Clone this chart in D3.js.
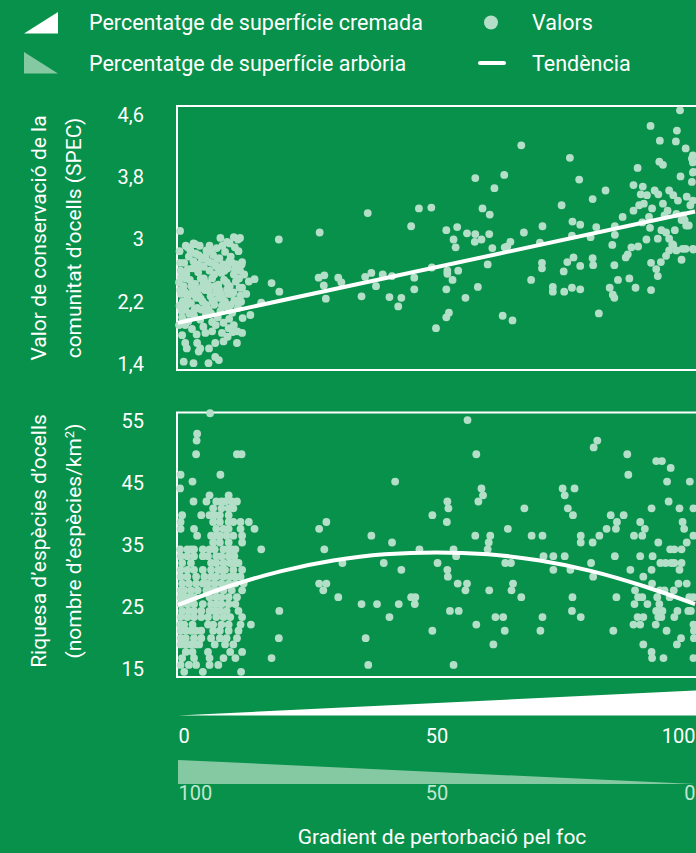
<!DOCTYPE html>
<html>
<head>
<meta charset="utf-8">
<script src="https://cdnjs.cloudflare.com/ajax/libs/d3/7.8.5/d3.min.js"></script>
<style>
  body { margin: 0; background: #08914a; overflow: hidden; }
  svg { display: block; font-family: Roboto, sans-serif; }
</style>
</head>
<body>
<svg></svg>
<script>
const width = 696
const height = 853
const dotColor = '#b3dfc8'
const lightColor = '#85c9a2'

const burnTicks = [0, 50, 100]
const forestTicks = [100, 50, 0]
const specTicks = [1.4, 2.2, 3, 3.8, 4.6]
const richTicks = [15, 25, 35, 45, 55]

// SPEC value vs fire gradient (x: 0-100)
const specCluster = [
  [0.3,2.85],[1.2,2.7],[2.1,2.78],[3.4,2.82],[4.6,2.75],[5.5,2.86],[6.8,2.8],[8.0,2.76],[9.1,2.84],[10.2,2.78],[11.3,2.68],
  [0.5,2.6],[1.6,2.55],[2.8,2.63],[3.9,2.58],[5.0,2.65],[6.1,2.6],[7.3,2.66],[8.4,2.57],[9.6,2.63],[10.8,2.55],[12.0,2.6],
  [0.2,2.45],[1.1,2.4],[2.3,2.48],[3.3,2.43],[4.4,2.5],[5.6,2.44],[6.6,2.5],[7.8,2.42],[8.9,2.48],[10.0,2.4],[11.2,2.46],[12.4,2.38],
  [0.6,2.3],[1.8,2.25],[2.9,2.33],[4.0,2.28],[5.2,2.35],[6.3,2.27],[7.4,2.32],[8.6,2.24],[9.7,2.3],[10.9,2.22],[12.1,2.28],
  [0.3,2.15],[1.4,2.1],[2.5,2.18],[3.7,2.12],[4.8,2.2],[5.9,2.1],[7.0,2.16],[8.2,2.08],[9.3,2.14],[10.5,2.06],[11.6,2.12],
  [0.8,2.0],[2.0,1.95],[3.1,2.02],[4.3,1.97],[5.4,2.04],[6.6,1.94],[7.7,2.0],[8.8,1.93],[9.9,1.98],
  [0.4,2.7],[1.9,2.9],[3.0,2.95],[4.2,2.92],[5.0,2.5],[6.0,2.4],[7.0,2.55],[8.0,2.35],[9.0,2.6],[10.5,2.7],[11.8,2.5],
  [2.6,2.3],[3.6,2.68],[4.7,2.38],[5.8,2.72],[6.9,2.2],[7.9,2.62],[9.4,2.45],[10.3,2.3],[11.0,2.9],[12.2,2.2],[1.5,2.5],
  [0.9,2.2],[2.2,2.05],[3.5,2.25],[4.5,2.1],[6.4,2.05],[8.5,2.15],[9.8,2.1],
  [0.6,2.52],[1.9,2.62],[3.0,2.72],[4.1,2.66],[5.3,2.78],[6.4,2.7],[7.6,2.75],[8.7,2.68],[9.9,2.72],[11.0,2.62],[12.3,2.68],
  [0.4,2.35],[1.4,2.32],[2.6,2.4],[3.8,2.36],[4.9,2.42],[6.0,2.34],[7.2,2.4],[8.3,2.3],[9.5,2.36],[10.7,2.32],[11.9,2.38],
  [0.7,2.08],[2.0,2.2],[3.2,2.1],[4.4,2.24],[5.5,2.16],[6.7,2.22],[7.9,2.25],[9.1,2.2],[10.2,2.16],[11.4,2.2],
  [2.4,2.86],[4.0,2.8],[6.3,2.85],[8.6,2.92],[10.0,2.95],[12.8,2.55],[13.2,2.3],[0.2,1.9],[2.7,1.85],[4.9,1.88],
  [7.3,1.9],[9.6,1.75],[3.6,1.78],[6.0,1.6],
  [0.4,3.11],[1.5,2.92],[3.3,2.94],[6.1,2.92],[7.5,2.89],[8.2,3.02],[9.5,2.97],[10.8,3.03],[11.6,3.0],[12.0,3.02],
  [11.7,2.85],[12.4,2.71],[13.7,2.46],[12.5,1.99],[11.5,1.82],[12.4,1.8],[10.6,1.81],[11.4,1.67],[8.8,1.69],[7.2,1.67],
  [7.2,1.49],[7.9,1.45],[5.9,1.41],[3.7,1.67],[4.3,1.6],[4.0,1.56],[1.4,1.67],[1.7,1.6],[1.4,1.9],[1.1,1.43],[3.0,1.41],
  [0.8,1.77],[1.7,2.16],[0.9,2.15],[5.3,1.8],[6.6,1.82],[8.5,1.8],[10.8,1.9],[9.8,1.86]
]
const specSpread = [
  [19.5,3.0],[27.4,3.09],[18.1,2.44],[19.6,2.33],[16.1,2.19],[14.0,2.03],[14.8,2.49],[36.7,3.34],[27.2,2.51],[28.3,2.54],
  [28.2,2.41],[28.6,2.24],[31.0,2.51],[31.6,2.45],[35.5,2.27],[36.2,2.52],[37.4,2.57],[38.3,2.4],[39.6,2.55],[40.9,2.26],
  [42.6,2.14],[43.2,2.25],[41.4,2.53],[45.1,3.17],[46.6,3.4],[49.0,3.41],[45.7,2.51],[45.7,2.36],[49.1,2.64],[49.9,1.86],
  [51.9,2.0],[52.4,2.06],[51.9,3.12],[53.3,3.0],[53.7,2.9],[54.0,3.16],[55.9,3.08],[57.5,3.07],[57.4,2.97],[58.7,3.0],
  [60.2,3.07],[58.9,3.4],[60.3,3.32],[57.5,3.79],[63.1,3.83],[61.2,3.66],[66.4,4.21],[52.1,2.6],[52.1,2.56],[53.1,2.48],
  [51.9,2.36],[54.2,2.6],[55.6,2.25],[58.0,2.39],[59.9,2.68],[60.8,2.89],[63.2,2.9],[63.7,2.91],[64.3,2.97],[66.9,3.09],
  [62.8,2.02],[64.7,1.96],[68.3,2.48],[70.0,2.96],[70.4,2.7],[70.4,2.63],[70.5,3.17],[72.5,2.39],[72.5,2.33],[74.7,2.33],
  [74.6,2.59],[75.3,2.71],[76.2,2.38],[77.8,2.36],[76.5,2.77],[77.8,2.66],[76.3,3.23],[77.8,3.19],[75.8,4.05],[77.6,3.77],
  [74.2,3.44],[76.2,3.05],[80.2,3.52],[82.7,3.63],[80.2,2.76],[80.3,2.67],[81.4,2.05],[80.9,3.16],[79.8,3.03],[83.5,2.38],
  [84.1,2.29],[84.4,2.25],[84.4,2.67],[84.0,2.93],[85.1,2.48],[84.5,3.17],[84.5,3.06],[86.0,3.29],[87.3,2.5],[88.5,2.38],
  [86.6,2.77],[87.0,2.81],[87.7,2.9],[89.0,2.91],[90.6,3.0],[91.5,2.35],[91.5,2.7],[92.8,2.53],[92.5,2.62],[93.4,2.71],
  [94.4,2.79],[95.0,2.86],[95.8,2.93],[96.4,2.86],[97.4,2.74],[98.2,2.88],[99.7,2.87],[88.1,3.7],[88.9,3.92],[89.9,3.68],
  [89.5,3.58],[90.7,3.57],[92.2,3.63],[92.9,3.58],[91.4,4.46],[93.2,4.27],[93.1,4.0],[93.8,3.96],[96.3,4.26],[96.5,4.4],
  [97.1,4.66],[98.2,4.17],[97.2,3.81],[95.0,3.63],[95.8,3.57],[98.4,3.55],[96.7,3.5],[99.4,4.04],[99.7,3.87],[99.4,3.74],
  [89.2,3.44],[90.1,3.46],[88.1,3.37],[91.7,3.4],[93.8,3.46],[94.7,3.37],[94.1,3.31],[91.1,3.29],[89.8,3.22],[91.3,3.15],
  [92.8,3.01],[93.5,3.12],[96.1,3.12],[94.4,3.09],[95.0,3.01],[95.6,2.94],[97.4,3.25],[98.8,3.18],[97.7,3.31],[96.4,3.33],
  [99.1,3.44],[99.6,4.08],[99.6,3.99],[99.6,3.86],[99.6,3.5],[98.0,3.25],[98.3,3.18],[99.6,2.88],[97.6,2.88]
]
const specTrend = [[0, 1.93], [100, 3.36]]

// species richness vs fire gradient, rows of equal richness in the unburnt cluster
const richClusterRows = [
  [56.2, [6.2]],
  [52.9, [3.7]],
  [51.8, [3.6]],
  [49.6, [3.5, 11.4, 12.3]],
  [46.3, [0.5, 8.2]],
  [45.2, [2.8]],
  [44.1, [0.4]],
  [43.0, [6.1, 9.8]],
  [42.0, [3.0, 5.5, 7.4, 8.4, 9.1, 10.4, 11.4]],
  [40.9, [6.8, 8.4, 9.8, 10.7]],
  [39.8, [0.8, 4.5, 6.1, 7.1, 8.1, 9.8]],
  [38.7, [0.5, 6.8, 8.1, 9.8, 10.7, 12.1, 13.7]],
  [37.6, [0.5, 3.1, 7.4, 8.8, 9.8, 12.1, 14.8]],
  [36.5, [3.7, 6.4, 7.4, 8.1, 9.4, 10.7, 12.4]],
  [35.4, [6.8, 8.1, 9.8, 12.4]],
  [34.3, [0.4, 1.8, 2.5, 3.1, 4.8, 6.1, 7.1, 8.8, 9.8, 10.4, 11.1]],
  [33.2, [0.5, 1.8, 3.1, 4.8, 5.8, 7.4, 8.4, 9.8, 10.9]],
  [32.1, [0.8, 2.5, 6.4, 7.4, 8.8, 10.1, 11.1, 11.7]],
  [31.0, [0.5, 1.8, 3.1, 4.8, 6.4, 7.8, 8.4, 9.1, 10.7, 12.4]],
  [29.9, [0.5, 1.8, 3.5, 5.1, 6.4, 7.4, 8.8, 10.1, 11.1, 12.1]],
  [28.8, [0.8, 2.1, 3.5, 4.8, 5.8, 7.1, 8.4, 9.8, 11.1, 12.7]],
  [27.7, [0.5, 1.2, 2.5, 3.8, 5.5, 6.4, 7.4, 8.8, 10.4, 12.4]],
  [26.6, [0.5, 1.2, 2.1, 3.1, 6.1, 7.4, 8.4, 9.8, 11.4]],
  [25.5, [0.5, 1.8, 3.1, 4.8, 6.4, 7.4, 8.4, 9.8, 11.1]],
  [24.4, [0.8, 2.1, 3.1, 4.5, 6.1, 7.1, 8.1, 9.4, 11.7]],
  [23.4, [0.5, 1.8, 3.1, 4.5, 5.8, 7.4, 8.8, 10.1, 12.4]],
  [22.2, [0.4, 1.2, 2.8, 5.8, 6.8, 8.4, 9.8, 12.1, 14.1]],
  [21.2, [0.5, 1.5, 2.5, 3.5, 4.5, 6.8, 8.1, 9.8, 11.7]],
  [20.0, [0.5, 1.5, 3.1, 4.5, 6.4, 8.1, 9.4, 11.4]],
  [19.0, [0.5, 1.5, 2.5, 3.5, 4.1, 7.1, 9.1, 10.7]],
  [17.8, [1.5, 2.8, 5.8, 10.1, 12.4]],
  [16.8, [0.8, 3.1, 6.1, 8.8, 11.1]],
  [15.7, [0.5, 2.1, 3.5, 6.1, 7.8]],
  [14.6, [1.2, 4.8, 12.2]]
]
const richSpread = [
  [56.0,55.1],[57.7,49.6],[42.0,45.2],[58.7,44.1],[59.0,43.0],[58.1,42.0],[52.1,42.0],[52.3,40.9],[52.0,38.7],[49.2,39.8],
  [67.0,40.9],[74.4,44.1],[76.7,44.1],[74.8,43.0],[75.4,40.9],[76.4,39.8],[80.4,50.7],[81.1,51.8],[86.9,49.6],[87.1,46.3],
  [92.5,48.5],[93.6,48.5],[95.3,47.4],[94.6,45.2],[99.0,45.2],[94.9,42.0],[97.0,40.9],[99.7,40.9],[27.3,37.6],[28.7,38.7],
  [28.3,34.3],[37.4,36.5],[41.4,35.4],[46.7,34.3],[53.3,34.3],[53.8,33.2],[60.4,36.5],[60.1,35.4],[59.9,34.3],[57.5,36.5],
  [63.8,37.6],[68.4,36.5],[70.5,36.5],[77.9,36.5],[77.9,35.4],[80.2,35.4],[81.5,36.5],[82.9,37.6],[84.7,37.6],[83.7,39.8],
  [84.9,38.7],[86.2,39.8],[89.4,38.7],[90.3,37.6],[88.2,36.5],[89.8,36.5],[91.6,40.9],[97.6,38.7],[97.9,37.6],[99.7,36.5],
  [98.4,35.4],[95.2,34.3],[96.0,34.3],[97.4,34.3],[92.9,35.4],[91.8,33.2],[89.4,33.2],[84.5,33.2],[74.8,33.2],[72.6,33.2],
  [70.7,33.2],[72.6,31.0],[75.9,31.0],[79.9,32.1],[80.3,29.9],[87.5,31.0],[90.0,29.9],[91.6,31.0],[93.3,32.1],[94.3,32.1],
  [95.4,32.1],[96.0,32.1],[97.4,32.1],[97.0,31.0],[63.3,32.1],[64.4,32.1],[64.8,28.8],[64.5,27.7],[66.4,26.6],[60.2,27.7],
  [54.1,28.8],[55.9,28.8],[55.6,27.7],[52.1,31.0],[52.2,29.9],[50.2,32.1],[43.2,31.0],[39.8,32.1],[31.8,32.1],[27.3,28.8],
  [28.7,28.8],[28.1,27.7],[31.0,26.6],[35.5,25.5],[38.5,25.5],[42.7,25.5],[40.9,23.4],[45.1,26.6],[45.9,26.6],[45.8,25.5],
  [52.6,24.4],[54.3,24.4],[57.7,22.2],[61.4,23.4],[62.9,23.4],[63.2,21.2],[61.0,19.0],[70.1,21.2],[70.5,23.4],[76.3,26.6],
  [76.2,24.4],[77.9,23.4],[84.8,26.6],[84.2,21.2],[49.2,21.2],[36.3,20.0],[36.8,15.7],[53.3,15.7],[18.1,16.8],[19.6,24.4],
  [19.5,20.0],[16.1,34.3],
  [88.4,27.7],[89.0,26.6],[88.3,25.5],[89.8,26.6],[90.8,25.5],[88.9,23.4],[90.0,23.4],[88.1,22.2],[89.4,22.2],[92.4,22.2],
  [92.5,24.4],[93.1,25.5],[93.7,24.4],[92.7,26.6],[95.1,26.6],[96.0,23.4],[96.6,24.4],[98.7,24.4],[99.2,24.4],[99.7,22.2],
  [99.8,21.2],[99.8,20.0],[94.5,21.2],[90.0,19.0],[91.6,17.8],[91.7,16.8],[93.9,16.8],[96.5,19.0],[97.3,20.0],[99.7,16.8],
  [91.7,28.8],[93.2,27.7],[94.1,27.7],[95.9,27.7],[96.8,28.8],[98.4,28.8],[98.9,26.6],[99.7,26.6],[92.9,23.4],[93.5,23.4]
]
const richTrend = [[0,25.35],[10,28.4],[20,30.8],[30,32.5],[40,33.5],[50,33.8],[60,33.5],[70,32.5],[80,30.8],[90,28.4],[100,25.5]]

const svg = d3.select('svg')
    .attr('width', width)
    .attr('height', height)

const xScale = d3.scaleLinear().domain([0, 100]).range([178, 695])
const forestScale = d3.scaleLinear().domain([100, 0]).range([178, 695])
const ySpec = d3.scaleLinear().domain([1.4, 4.6]).range([364, 115])
const yRich = d3.scaleLinear().domain([15, 55]).range([669.3, 420.7])
const commaFormat = (d) => String(d).replace('.', ',')

const drawPanel = (points, trend, yScale, ticks, top, bottom, curve) => {
    svg.append('rect')
        .attr('x', 177)
        .attr('y', top)
        .attr('width', 540)
        .attr('height', bottom - top)
        .attr('fill', 'none')
        .attr('stroke', 'white')
        .attr('stroke-width', 2)

    svg.append('g')
        .selectAll('circle')
        .data(points)
        .enter()
        .append('circle')
        .attr('cx', (d) => xScale(d[0]))
        .attr('cy', (d) => yScale(d[1]))
        .attr('r', 3.9)
        .attr('fill', dotColor)

    const line = d3.line()
        .x((d) => xScale(d[0]))
        .y((d) => yScale(d[1]))
        .curve(curve)
    svg.append('path')
        .datum(trend)
        .attr('d', line)
        .attr('fill', 'none')
        .attr('stroke', 'white')
        .attr('stroke-width', 4)

    const yAxis = d3.axisLeft(yScale)
        .tickValues(ticks)
        .tickSize(0)
        .tickPadding(0)
        .tickFormat(commaFormat)
    const g = svg.append('g')
        .attr('transform', 'translate(144, 0)')
        .call(yAxis)
    g.select('.domain').remove()
    g.attr('font-family', null).attr('font-size', 20)
    g.selectAll('text').attr('fill', 'white')
}

const drawAxisTitle = (lines, cy) => {
    const xs = [46, 81]
    lines.forEach((t, i) => {
        svg.append('text')
            .attr('transform', 'translate(' + xs[i] + ', ' + cy + ') rotate(-90)')
            .attr('text-anchor', 'middle')
            .attr('font-size', 21)
            .attr('fill', 'white')
            .html(t)
    })
}

const drawGradient = () => {
    const burnThick = d3.scaleLinear().domain([0, 100]).range([0, 25])
    const burnArea = d3.area()
        .x((d) => xScale(d))
        .y0(715.5)
        .y1((d) => 715.5 - burnThick(d))
    svg.append('path')
        .datum([0, 100, 101])
        .attr('d', burnArea)
        .attr('fill', 'white')

    const forestThick = d3.scaleLinear().domain([0, 100]).range([0, 24])
    const forestArea = d3.area()
        .x((d) => forestScale(d))
        .y0(784)
        .y1((d) => 784 - forestThick(d))
    svg.append('path')
        .datum([100, 0])
        .attr('d', forestArea)
        .attr('fill', lightColor)

    const axisRow = (scale, ticks, y, color) => {
        const g = svg.append('g')
            .attr('transform', 'translate(0, ' + y + ')')
            .call(d3.axisBottom(scale).tickValues(ticks).tickSize(0).tickFormat(d3.format('d')))
        g.select('.domain').remove()
        g.attr('font-family', null).attr('font-size', 20)
        g.selectAll('text')
            .attr('y', 0)
            .attr('dy', 0)
            .attr('fill', color)
            .attr('text-anchor', (d, i) => i === 0 ? 'start' : (i === ticks.length - 1 ? 'end' : 'middle'))
    }
    axisRow(xScale, burnTicks, 743, 'white')
    axisRow(forestScale, forestTicks, 800, '#c2e6d2')

    svg.append('text')
        .attr('x', 442)
        .attr('y', 844)
        .attr('text-anchor', 'middle')
        .attr('font-size', 21)
        .attr('fill', 'white')
        .text('Gradient de pertorbació pel foc')
}

const drawLegend = () => {
    svg.append('path')
        .attr('d', d3.line()([[24, 33.5], [58, 33.5], [58, 12]]))
        .attr('fill', 'white')
    svg.append('path')
        .attr('d', d3.line()([[24, 52], [24, 73.5], [58, 73.5]]))
        .attr('fill', lightColor)
    svg.append('circle')
        .attr('cx', 491).attr('cy', 22.5).attr('r', 7)
        .attr('fill', dotColor)
    svg.append('line')
        .attr('x1', 480).attr('x2', 504).attr('y1', 63).attr('y2', 63)
        .attr('stroke', 'white').attr('stroke-width', 4).attr('stroke-linecap', 'round')
    const items = [
        ['Percentatge de superfície cremada', 89, 30],
        ['Percentatge de superfície arbòria', 89, 71],
        ['Valors', 532, 30],
        ['Tendència', 532, 71]
    ]
    svg.selectAll('.legend-text')
        .data(items)
        .enter()
        .append('text')
        .attr('class', 'legend-text')
        .attr('x', (d) => d[1])
        .attr('y', (d) => d[2])
        .attr('font-size', 21.5)
        .attr('fill', 'white')
        .text((d) => d[0])
}

const richPoints = richClusterRows.flatMap((row) => row[1].map((x) => [x, row[0]])).concat(richSpread)

drawLegend()
drawPanel(specCluster.concat(specSpread), specTrend, ySpec, specTicks, 106, 370, d3.curveLinear)
drawPanel(richPoints, richTrend, yRich, richTicks, 412.5, 677, d3.curveMonotoneX)
drawAxisTitle(['Valor de conservació de la', 'comunitat d’ocells (SPEC)'], 238)
drawAxisTitle(['Riquesa d’espècies d’ocells', '(nombre d’espècies/km<tspan dy="-7" font-size="13">2</tspan><tspan dy="7">)</tspan>'], 541)
drawGradient()
</script>
</body>
</html>
